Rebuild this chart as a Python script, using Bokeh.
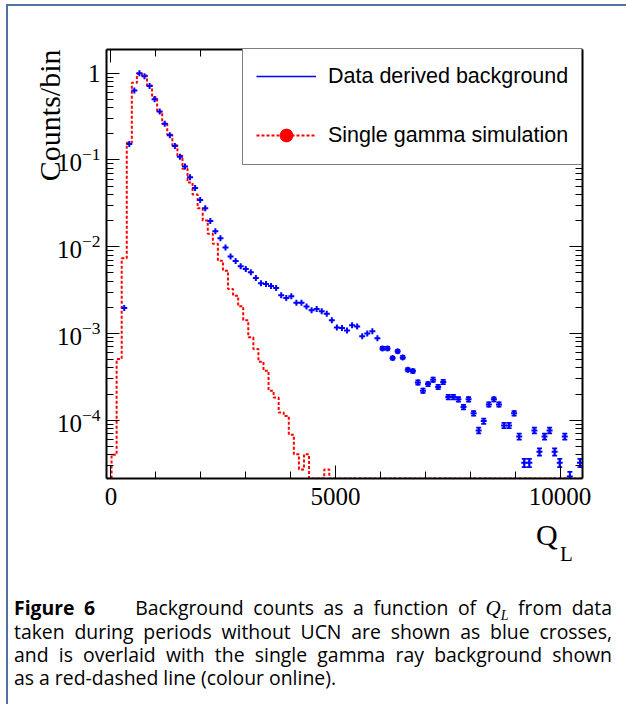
import numpy as np
from bokeh.plotting import figure
from bokeh.models import (Range1d, FixedTicker, LogAxis, LinearAxis, LogTickFormatter,
                          CustomJSTickFormatter, Title, Legend, LegendItem, Div, ColumnDataSource)
from bokeh.layouts import column
from bokeh.embed import file_html
from bokeh.resources import INLINE

nan = float("nan")

# ---- data -------------------------------------------------------------
q_edges = np.linspace(-100, 10500, 95)          # 94 bins in Q_L

blue_counts = [nan, nan, nan, 0.00197, 0.153, 0.63, 1.0, 0.92, 0.71, 0.50,
               0.361, 0.261, 0.193, 0.145, 0.109, 0.0839, 0.0631, 0.0476, 0.0346, 0.0277,
               0.0198, 0.0151, 0.0125, 0.00977, 0.00769, 0.00686, 0.00594, 0.00554, 0.00507, 0.00437,
               0.00379, 0.00372, 0.00353, 0.00335, 0.00275, 0.00257, 0.00268, 0.00226, 0.00226, 0.00204,
               0.00185, 0.00192, 0.00180, 0.00169, 0.00142, 0.00117, 0.00116, 0.00108, 0.00124, 0.00120,
               0.000926, 0.00100, 0.00106, 0.000879, 0.000673, 0.000673, 0.000521, 0.000622, 0.000530, 0.000382,
               0.000369, 0.000273, 0.000219, 0.000261, 0.000293, 0.000242, 0.000276, 0.000185, 0.000185, 0.000174,
               0.000142, 0.000174, 0.000120, 7.63e-5, 9.77e-5, 0.000152, 0.000174, 0.000152, 8.71e-5, 8.71e-5,
               0.000120, 6.50e-5, 3.23e-5, 3.23e-5, 7.63e-5, 4.33e-5, 6.50e-5, 7.63e-5, 4.33e-5, 3.23e-5,
               6.50e-5, 2.25e-5, nan, 3.23e-5]

# relative errors; 0 where the error bar is hidden inside the marker
blue_relerr = [0, 0, 0, 0, 0, 0, 0, 0, 0, 0,
               0, 0, 0, 0, 0, 0, 0, 0, 0, 0,
               0, 0, 0, 0, 0, 0, 0, 0, 0, 0,
               0, 0, 0, 0, 0, 0, 0, 0, 0, 0,
               0, 0, 0, 0, 0, 0, 0, 0, 0, 0,
               0, 0, 0, 0, 0.04, 0.04, 0.04, 0.04, 0.04, 0.045,
               0.045, 0.055, 0.055, 0.055, 0.055, 0.055, 0.055, 0.06, 0.06, 0.06,
               0.06, 0.06, 0.06, 0.075, 0.07, 0.055, 0.05, 0.055, 0.07, 0.07,
               0.06, 0.08, 0.11, 0.11, 0.075, 0.095, 0.08, 0.075, 0.095, 0.11,
               0.08, 0.13, 0, 0.11]

red_counts = [0, 4.0e-5, 0.000508, 0.00735, 0.158, 0.775, 0.985, 0.94, 0.72, 0.53,
              0.36, 0.262, 0.195, 0.148, 0.112, 0.079, 0.055, 0.040, 0.0278, 0.0201,
              0.0141, 0.0108, 0.0069, 0.0053, 0.00326, 0.00273, 0.00206, 0.00142, 0.000902, 0.000662,
              0.000473, 0.000372, 0.000219, 0.000183, 0.000123, 0.000112, 6.8e-5, 4.05e-5, 2.7e-5, 4.05e-5,
              0, 0, 0, 2.7e-5] + [0] * 50

x_major = [0, 5000, 10000]
x_minor = [1000, 2000, 3000, 4000, 6000, 7000, 8000, 9000]
y_major = [1e-4, 1e-3, 1e-2, 1e-1, 1]
y_minor = [k * 10.0 ** n for n in range(-5, 1) for k in range(2, 10)]

Y_MIN, Y_MAX = 2.13e-5, 1.876
X_MIN, X_MAX = -100, 10500

BLUE = "#0000ff"
RED = "#ff0000"

# ---- figure -------------------------------------------------------------
p = figure(width=618, height=512, x_range=Range1d(X_MIN, X_MAX), y_range=Range1d(Y_MIN, Y_MAX),
           y_axis_type="log", output_backend="svg", toolbar_location=None,
           min_border_left=98, min_border_right=44, min_border_top=43, min_border_bottom=40,
           background_fill_color="white", border_fill_color="white", outline_line_color=None)
p.grid.visible = False

xt = FixedTicker(ticks=x_major, minor_ticks=x_minor)
yt = FixedTicker(ticks=y_major, minor_ticks=y_minor)
blank = CustomJSTickFormatter(code="return ''")


def style_axis(ax, labels=True):
    ax.major_tick_in = 13
    ax.major_tick_out = 0
    ax.minor_tick_in = 7
    ax.minor_tick_out = 0
    ax.axis_line_width = 2
    ax.axis_line_color = "black"
    ax.major_tick_line_width = 1
    ax.minor_tick_line_width = 1
    ax.major_tick_line_color = "black"
    ax.minor_tick_line_color = "black"
    ax.major_label_text_font = "Liberation Serif"
    ax.major_label_text_color = "black"
    ax.major_label_text_font_size = "25px"
    if not labels:
        ax.formatter = blank
        ax.major_label_standoff = 0


xa = p.xaxis[0]
xa.ticker = xt
style_axis(xa)
xa.major_label_standoff = 9

ya = p.yaxis[0]
ya.ticker = yt
ya.formatter = LogTickFormatter(min_exponent=1)
style_axis(ya)
ya.major_label_standoff = 6

top_ax = LinearAxis(ticker=xt)
style_axis(top_ax, labels=False)
p.add_layout(top_ax, "above")
right_ax = LogAxis(ticker=yt)
style_axis(right_ax, labels=False)
p.add_layout(right_ax, "right")

# y-axis title, aligned to the top end of the axis
p.add_layout(Title(text="Counts/bin", align="right", vertical_align="bottom", offset=0, standoff=-25,
                   text_font="Liberation Serif", text_font_size="30px", text_font_style="normal",
                   text_color="black"), "left")

# ---- red histogram (single gamma simulation) -----------------------------
red_plot = np.maximum(np.array(red_counts, dtype=float), Y_MIN)
red_step = p.step(x=q_edges, y=np.append(red_plot, red_plot[-1]), mode="after",
                  line_color=RED, line_width=2, line_dash="3 2")

# ---- blue data points with error bars ------------------------------------
centers = 0.5 * (q_edges[:-1] + q_edges[1:])
bc = np.array(blue_counts, dtype=float)
be = np.array(blue_relerr, dtype=float)
ok = ~np.isnan(bc)
bar = ok & (be > 0)
src = ColumnDataSource(dict(x=centers[ok], y=bc[ok]))
src_err = ColumnDataSource(dict(x=centers[bar], lo=bc[bar] * (1 - be[bar]), hi=bc[bar] * (1 + be[bar])))
p.segment(x0="x", y0="lo", x1="x", y1="hi", source=src_err, line_color=BLUE, line_width=1.8)
p.scatter(x="x", y="lo", source=src_err, marker="dash", size=5, line_color=BLUE, line_width=1.8)
p.scatter(x="x", y="hi", source=src_err, marker="dash", size=5, line_color=BLUE, line_width=1.8)
p.scatter(x="x", y="y", source=src, marker="cross", size=6, line_color=BLUE, line_width=2)

# ---- legend --------------------------------------------------------------
leg_blue = p.line(x=[0, 1], y=[1e-9, 1e-9], line_color=BLUE, line_width=1.5)
leg_red_pt = p.scatter(x=[0], y=[1e-9], marker="circle", size=12, fill_color=RED, line_color=RED)
legend = Legend(items=[LegendItem(label="Data derived background", renderers=[leg_blue]),
                       LegendItem(label="Single gamma simulation", renderers=[red_step, leg_red_pt])],
                location=(136, 313), orientation="vertical",
                border_line_color="black", border_line_width=1,
                background_fill_color="white", background_fill_alpha=1.0,
                padding=13, spacing=27, margin=0,
                glyph_width=60, glyph_height=32, label_height=32, label_standoff=12,
                label_text_font="Liberation Sans", label_text_font_size="21.5px",
                label_text_color="black")
p.add_layout(legend)

# ---- x-axis title and caption (HTML block below the figure) ----------------
ls = "text-align: justify; text-align-last: justify;"
ql = ("<span style=\"font-family: 'Liberation Serif'; font-style: italic; font-size: 21px;\">Q"
      "<sub style=\"font-size: 14px; line-height: 0;\">L</sub></span>")
below_html = (
    "<div style=\"position: relative; width: 612px; height: 176px; color: black;\">"
    "<span style=\"position: absolute; left: 523px; top: 2px; font-family: 'Liberation Serif'; "
    "font-size: 30px; line-height: 20px; white-space: nowrap;\">Q</span>"
    "<span style=\"position: absolute; left: 547px; top: 24px; font-family: 'Liberation Serif'; "
    "font-size: 21px; line-height: 14px; white-space: nowrap;\">L</span>"
    "<div style=\"position: absolute; left: 1px; top: 73px; width: 598px; font-family: 'Open Sans'; "
    "font-size: 19.4px; line-height: 23px;\">"
    f"<div style=\"{ls}\"><b>Figure 6</b><span style=\"display: inline-block; width: 40px;\"></span>"
    f"Background counts as a function of {ql} from data</div>"
    f"<div style=\"{ls}\">taken during periods without UCN are shown as blue crosses,</div>"
    f"<div style=\"{ls}\">and is overlaid with the single gamma ray background shown</div>"
    "<div>as a red-dashed line (colour online).</div>"
    "</div>"
    "</div>")
below = Div(text=below_html, width=612, height=176)

layout = column(p, below, margin=(4, 0, 0, 6),
                styles={"border-top": "2px solid #4f72a0", "border-left": "2px solid #4f72a0"})

open("out.html", "w").write(file_html(layout, INLINE))
